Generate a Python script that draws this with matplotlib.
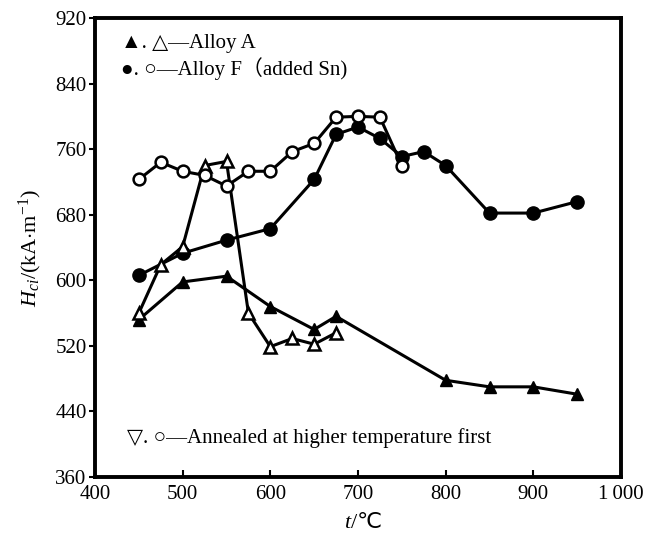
import matplotlib
matplotlib.use("Agg")
import matplotlib.pyplot as plt

plt.rcParams['font.family'] = ['Liberation Serif', 'DejaVu Serif', 'Noto Sans CJK SC']
plt.rcParams['mathtext.fontset'] = 'custom'
plt.rcParams['mathtext.rm'] = 'Liberation Serif'
plt.rcParams['mathtext.it'] = 'Liberation Serif:italic'

# Alloy A, normal annealing (filled triangles)
a_t = [450, 500, 550, 600, 650, 675, 800, 850, 900, 950]
a_h = [552, 598, 605, 568, 540, 556, 478, 470, 470, 461]

# Alloy A, annealed at higher temperature first (open triangles)
a2_t = [450, 475, 500, 525, 550, 575, 600, 625, 650, 675]
a2_h = [560, 619, 641, 740, 745, 560, 519, 529, 522, 536]

# Alloy F (added Sn), filled circles
f_t = [450, 500, 550, 600, 650, 675, 700, 725, 750, 775, 800, 850, 900, 950]
f_h = [606, 633, 649, 663, 723, 778, 787, 773, 751, 757, 740, 682, 682, 696]

# Alloy F, annealed at higher temperature first (open circles)
f2_t = [450, 475, 500, 525, 550, 575, 600, 625, 650, 675, 700, 725, 750]
f2_h = [723, 744, 733, 728, 715, 733, 733, 757, 767, 799, 800, 799, 740]

xticks = [400, 500, 600, 700, 800, 900, 1000]
xlabels = ['400', '500', '600', '700', '800', '900', '1\u2009000']
yticks = [360, 440, 520, 600, 680, 760, 840, 920]

fig = plt.figure(figsize=(6.54, 5.47), dpi=100)
ax = fig.add_axes([95 / 654, 1 - 477 / 547, 526 / 654, 459 / 547])

lw = 2.2
ms = 8.5
ax.plot(a_t, a_h, color='black', lw=lw, marker='^', ms=ms, mfc='black', mec='black', zorder=3)
ax.plot(a2_t, a2_h, color='black', lw=lw, marker='^', ms=ms, mfc='white', mec='black', mew=1.8, zorder=4)
ax.plot(f_t, f_h, color='black', lw=lw, marker='o', ms=ms + 1, mfc='black', mec='black', zorder=3)
ax.plot(f2_t, f2_h, color='black', lw=lw, marker='o', ms=ms, mfc='white', mec='black', mew=1.8, zorder=4)

ax.set_xlim(400, 1000)
ax.set_ylim(360, 920)
ax.set_xticks(xticks)
ax.set_xticklabels(xlabels)
ax.set_yticks(yticks)
ax.tick_params(axis='x', direction='in', length=5, width=1.5, labelsize=15, pad=6)
ax.tick_params(axis='y', direction='out', length=4, width=1.5, labelsize=15, pad=2)
for s in ax.spines.values():
    s.set_linewidth(2.8)

fam = ['Liberation Serif', 'DejaVu Sans', 'Noto Sans CJK SC']

# x label: italic t followed by /℃
ax.text(0.485, -0.08, 't', transform=ax.transAxes, fontsize=16, style='italic',
        ha='right', va='top', family=fam)
ax.text(0.487, -0.08, '/\u2103', transform=ax.transAxes, fontsize=16,
        ha='left', va='top', family=fam)
ax.set_ylabel(r'$H_{\it ci}$/(kA$\cdot$m$^{-1}$)', fontsize=16, labelpad=8)

ax.text(0.05, 0.945, '\u25b2. \u25b3\u2014Alloy A', transform=ax.transAxes,
        fontsize=15, va='center', ha='left', family=fam)
ax.text(0.05, 0.89, '\u25cf. \u25cb\u2014Alloy F\uff08added Sn)', transform=ax.transAxes,
        fontsize=15, va='center', ha='left', family=fam)
ax.text(0.06, 0.085, '\u25bd. \u25cb\u2014Annealed at higher temperature first', transform=ax.transAxes,
        fontsize=15, va='center', ha='left', family=fam)

fig.savefig('out.png', dpi=100)
